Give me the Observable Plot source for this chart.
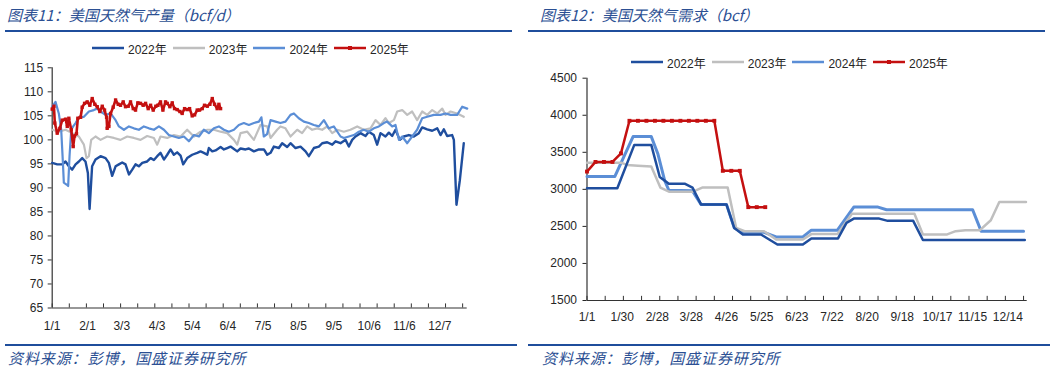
<!DOCTYPE html>
<html><head><meta charset="utf-8">
<script src="https://cdn.jsdelivr.net/npm/d3@7"></script>
<script src="https://cdn.jsdelivr.net/npm/@observablehq/plot@0.6"></script>
<style>
html,body{margin:0;padding:0;background:#fff;}
#root{position:relative;width:1055px;height:371px;background:#fff;overflow:hidden;font-family:"Liberation Sans","Noto Sans CJK SC",sans-serif;}
.title{position:absolute;font-family:"Noto Sans CJK SC",sans-serif;font-style:italic;font-size:15px;line-height:15px;color:#2B4F93;white-space:nowrap;}
.src{position:absolute;font-family:"Noto Sans CJK SC",sans-serif;font-style:italic;font-size:15px;line-height:15px;letter-spacing:0.9px;color:#2B4F93;white-space:nowrap;}
.rule{position:absolute;background:#1F4E9C;}
.legend{position:absolute;display:flex;align-items:center;height:14px;font-size:12px;color:#262626;white-space:nowrap;}
.legend .sw{display:inline-block;width:32px;height:10px;margin-right:4px;}
.legend .it{display:flex;align-items:center;margin-right:6px;}
.plot{position:absolute;}
</style></head>
<body><div id="root"></div>
<script>
// ---------- series colours / names ----------
const seriesNames = ["2022年","2023年","2024年","2025年"];
const seriesColors = ["#1F4E9E","#BFBFBF","#5B8ED6","#C41010"];

// ---------- Chart 11: US natural gas production (bcf/d), [day-of-year, value] ----------
const prod2022 = [[0,95.2],[4.4,94.9],[8.8,94.9],[11.7,95.5],[14.6,94.5],[17.5,93.8],[20.5,94.9],[23.4,95.5],[26.3,96.2],[29.2,95.5],[31.3,93.1],[32.8,85.6],[35,94.5],[38,95.9],[42.4,96.6],[46.8,96.2],[49.7,95.2],[52.6,92.5],[55.6,94.5],[58.5,94.9],[61.4,95.3],[64.3,94.9],[67.3,92.8],[70.2,93.8],[73.1,94.9],[76,94.5],[79,95.2],[83.3,95.5],[86.3,96.2],[89.2,95.8],[92.1,96.6],[95,97.3],[98,95.9],[100.9,96.9],[103.8,98],[106.7,96.9],[109.6,97.4],[112.6,96.7],[114.9,94.9],[118.4,96.2],[122.8,96.9],[127.2,97.3],[130.1,97.6],[133,97.3],[136,96.9],[137.4,98.3],[140.4,97.6],[143.3,97.8],[147.7,98.5],[150.6,98],[153.5,98.3],[156.4,98.6],[159.4,98.1],[162.3,97.6],[165.2,98.2],[169.6,98],[172.5,98.2],[176.9,97.6],[181.3,98],[185.7,98],[188.6,96.9],[191.5,97.3],[194.4,98.6],[198.8,98.3],[201.7,99.3],[206.1,98.5],[209,99.3],[213.4,98.3],[217.8,98.6],[222.2,97.6],[225.1,96.6],[229.5,98.3],[233.9,98.6],[236.8,99.3],[241.2,99.5],[245.6,99],[248.5,99.7],[252.9,99.3],[257.3,100],[260.2,98.6],[263.1,100],[266,100.7],[270.4,101.4],[274.8,100.8],[277.7,101.7],[282.1,101],[285,99],[288,101.4],[292.3,100.7],[295.3,101.5],[298.2,100.8],[301.1,102.1],[304.9,100],[308.4,100.7],[312.8,101],[317.2,100.7],[321.6,101.4],[324.5,102.6],[328.9,102.2],[333.3,101.9],[337.7,102.4],[340.6,101],[343.5,102.2],[346.4,100.8],[350.8,101],[352.3,100],[354.6,86.5],[357.5,91.5],[361,99.3]];
const prod2023 = [[0,102.1],[5.8,101.7],[11.7,102.1],[17.5,101.4],[23.4,100.7],[27.8,99],[30.1,96.2],[32.2,96.6],[34.2,100],[38,100.7],[42.4,100],[48.2,100.7],[54.1,100.4],[59.9,100],[65.8,100.7],[71.6,100.4],[77.5,100],[83.3,100.8],[89.2,100.4],[92.1,99],[95,100.7],[100.9,100.4],[106.7,101],[112.6,100.7],[118.4,102.1],[124.3,100.7],[130.1,101.7],[136,102.1],[141.8,102.1],[147.7,101.7],[153.5,101.4],[159.4,100],[162.3,99],[165.2,101.4],[171.1,101.7],[176.9,100],[182.7,103.1],[188.6,102.8],[191.5,100.4],[197.3,102.1],[200.2,102.8],[204.6,102.4],[209,100.7],[214.9,102.1],[219.2,101.4],[223.6,102.8],[228,102.1],[232.4,102.4],[236.8,102.1],[241.2,102.8],[245.6,101.4],[250,102.1],[255.8,101.7],[261.6,102.1],[267.5,102.8],[273.3,102.1],[279.2,102.4],[283.6,104.1],[288,103.1],[292.3,104.5],[295.3,103.5],[299.7,104.1],[302.6,105.9],[307,106.2],[311.4,105.2],[315.7,105.9],[320.1,104.1],[324.5,105.9],[328.9,105.2],[333.3,106.2],[337.7,105.5],[342.1,106.5],[345,105.2],[349.4,105.9],[355.2,105.5],[361,104.8]];
const prod2024 = [[0,106.9],[2.9,107.9],[5.8,105.5],[7.9,102.1],[9.4,95.2],[10.2,91.1],[12.6,90.7],[14,90.4],[15.2,96.6],[16.7,102.1],[18.4,102.8],[20.5,103.5],[23.4,104.7],[27.8,104.8],[32.2,105.9],[36.5,106.2],[39.5,106.5],[42.4,105.9],[46.8,105.2],[51.2,105.5],[55.6,104.1],[58.5,102.8],[62.9,102.1],[67.3,102.8],[71.6,102.4],[76,102.1],[80.4,102.8],[84.8,102.4],[89.2,102.1],[93.6,102.8],[98,102.1],[102.3,101],[106.7,100.7],[111.1,100.4],[115.5,100.7],[119.9,99.7],[124.3,101],[128.7,100.7],[133,102.1],[137.4,101.4],[141.8,102.4],[146.2,102.8],[150.6,102.1],[155,101.7],[159.4,102.1],[163.7,103.1],[168.1,103.5],[172.5,103.1],[176.9,103.5],[181.3,103.8],[183.5,104.7],[185.6,100.7],[188.5,101.2],[191.5,104.1],[195.9,103.8],[200.2,103.5],[204.6,103.8],[209,105.2],[212,105.5],[216.3,104.5],[220.7,103.8],[225.1,103.5],[229.5,103.1],[233.9,102.8],[238.3,104.1],[242.6,102.4],[247,102.8],[252.9,100.7],[255.8,100.4],[260.2,100.7],[264.6,101],[269,101.7],[273.3,102.1],[277.7,101.7],[282.1,102.4],[286.5,102.8],[290.9,103.5],[293.8,103.8],[298.2,102.8],[301.1,103.1],[304.1,100],[307,100.7],[311.4,99.3],[315.7,100.7],[320.1,102.1],[324.5,104.5],[328.9,104.8],[334.7,105.2],[340.6,105.2],[345,105.5],[349.4,105.2],[355.2,105.2],[359.6,106.9],[364,106.5]];
const prod2025 = [[0,106.4],[1.5,107],[2.3,103.5],[4.4,101.4],[6.7,102.4],[8.8,104.1],[11.7,104.3],[13.2,102.8],[14.6,104.5],[16.7,102.1],[18.4,98.6],[19.6,100.8],[21.3,101.3],[22.5,104.5],[24.9,104.7],[26.3,106.8],[28.4,107.6],[30.7,107.9],[33,107.2],[35.1,108.6],[37.4,107.4],[39.5,106.9],[41.8,105.9],[43.9,107],[45.9,106.2],[47.7,104.7],[48.2,102.4],[49.7,102.8],[51.2,105.5],[53.5,106.8],[55.6,108.3],[57.9,107.4],[59.9,107.2],[62.3,107.9],[64.3,106.9],[66.7,107],[68.7,107.9],[71.1,106.5],[73.1,106.2],[75.1,107.7],[77.5,107.6],[79.8,107.2],[81.9,107.6],[84.2,106.5],[86.3,107.2],[88.6,106.2],[90.9,107],[92.7,107.2],[95,107.9],[97.1,106.2],[99.4,107.9],[100.9,107.6],[103.2,106.9],[105.3,107.7],[107.3,106.5],[109.6,106.3],[112,105.9],[114,105.5],[116.1,106.5],[118.4,106.3],[120.5,106.5],[122.8,105],[124.9,105.2],[127.2,106.2],[129.2,106.2],[131.6,106.5],[133.6,107.2],[136,107],[138.3,107.4],[140.4,108.6],[142.4,107.4],[144.7,106.5],[146.2,107.4],[147.7,106.5]];
const prodYTicks = [65,70,75,80,85,90,95,100,105,110,115];
const prodXLabels = ["1/1","2/1","3/3","4/3","5/4","6/4","7/5","8/5","9/5","10/6","11/6","12/7"];
const prodXLabelDays = [0,31,61,92,123,154,185,216,247,278,309,340];
const prodXTickDays = d3.range(0, 361, 15);

// ---------- Chart 12: US natural gas demand (bcf), [day-of-year, value] ----------
const dem2022 = [[0,3015],[25,3015],[39,3600],[53,3600],[60,3166],[67.5,3077],[80.5,3077],[87,3024],[94,2797],[115,2797],[121.5,2478],[128.5,2390],[143.5,2390],[157,2256],[178,2256],[185,2338],[207,2338],[214,2547],[220,2605],[241,2605],[248,2575],[269,2575],[277,2316],[361,2316]];
const dem2023 = [[0,3360],[28,3360],[33,3330],[42,3320],[53,3308],[60.5,3024],[68,2966],[87,2966],[95,3024],[116,3024],[123,2478],[130,2434],[146,2434],[156,2323],[178,2323],[185,2396],[206.5,2396],[218.5,2672],[270,2672],[277,2392],[297,2392],[304,2436],[312,2449],[324,2449],[333,2583],[340,2828],[362,2828]];
const dem2024 = [[0,3175],[23,3175],[38,3712],[53,3712],[58.5,3476],[64,3121],[67.5,2988],[87,2980],[94,2797],[115,2797],[121.5,2478],[128.5,2420],[146,2420],[156,2358],[178,2358],[185,2449],[206.5,2449],[220,2761],[240,2761],[247,2725],[318,2725],[325,2436],[360,2436]];
const dem2025 = [[0,3240],[7,3370],[14,3370],[21,3370],[28,3485],[35,3925],[42,3925],[49,3925],[56,3925],[63,3925],[70,3925],[77,3925],[84,3925],[91,3925],[98,3925],[105,3925],[112,3250],[119,3250],[126,3250],[133,2760],[140,2760],[147,2760]];
const demYTicks = [1500,2000,2500,3000,3500,4000,4500];
const demXLabels = ["1/1","1/30","2/28","3/28","4/26","5/25","6/23","7/22","8/20","9/18","10/17","11/15","12/14"];
const demXLabelDays = [0,29,58,86,115,144,173,202,231,260,289,318,347];
const demXTickDays = d3.range(0, 361, 15);

const root = document.getElementById("root");
function el(tag, cls, style, html){const e=document.createElement(tag); if(cls) e.className=cls; if(style) e.setAttribute("style",style); if(html!=null) e.innerHTML=html; root.appendChild(e); return e;}

// titles, rules, sources
el("div","title","left:7px;top:7px;","图表11：美国天然气产量（bcf/d）");
el("div","rule","left:5px;top:30px;width:507px;height:2px;");
el("div","title","left:540px;top:7px;","图表12：美国天然气需求（bcf）");
el("div","rule","left:528px;top:30px;width:517px;height:2px;");
el("div","rule","left:5px;top:344px;width:512px;height:2px;");
el("div","rule","left:528px;top:344px;width:522px;height:2px;");
el("div","src","left:8px;top:350px;","资料来源：彭博，国盛证券研究所");
el("div","src","left:542px;top:350px;","资料来源：彭博，国盛证券研究所");

function legend(left, top, markerSize){
  const lg = el("div","legend",`left:${left}px;top:${top}px;`);
  seriesNames.forEach((n,i)=>{
    const mk = i===3 ? `<rect x="${16-markerSize/2}" y="${5-markerSize/2}" width="${markerSize}" height="${markerSize}" fill="${seriesColors[i]}"/>` : "";
    lg.insertAdjacentHTML("beforeend", `<span class="it"><svg class="sw" width="32" height="10"><line x1="0" x2="32" y1="5" y2="5" stroke="${seriesColors[i]}" stroke-width="2.5"/>${mk}</svg><span>${n}</span></span>`);
  });
}
legend(92, 41, 4);
legend(631, 55, 4);

const xy = {x: d=>d[0], y: d=>d[1]};
const axisColor = "#333";
const fontStyle = {fontFamily:'"Liberation Sans","Noto Sans CJK SC",sans-serif', fontSize:"12px", color:"#262626", background:"transparent", overflow:"visible"};

// left plot
const p1 = Plot.plot({
  width: 527, height: 280,
  marginTop: 12.3, marginBottom: 27.5, marginLeft: 51.7, marginRight: 60.3,
  x: {domain: [0, 364]},
  y: {domain: [65, 115]},
  style: fontStyle,
  marks: [
    Plot.axisY({ticks: prodYTicks, tickSize: 4, tickPadding: 5, stroke: axisColor, tickFormat: d=>String(d)}),
    Plot.axisX({ticks: prodXLabelDays, tickSize: 0, tickPadding: 13, tickFormat: d=>prodXLabels[prodXLabelDays.indexOf(d)]}),
    Plot.ruleX(prodXTickDays, {x: d=>d, y1: 65, y2: 65.85, stroke: axisColor}),
    Plot.ruleY([65], {stroke: axisColor, strokeWidth: 1.2}),
    Plot.ruleX([0], {stroke: axisColor, strokeWidth: 1.2}),
    Plot.line(prod2022, {...xy, stroke: seriesColors[0], strokeWidth: 2.4}),
    Plot.line(prod2023, {...xy, stroke: seriesColors[1], strokeWidth: 2.2}),
    Plot.line(prod2024, {...xy, stroke: seriesColors[2], strokeWidth: 2.2}),
    Plot.line(prod2025, {...xy, stroke: seriesColors[3], strokeWidth: 2.6}),
    Plot.dot(prod2025, {...xy, symbol: "square", r: 1.9, fill: seriesColors[3]})
  ]
});
p1.classList.add("plot"); p1.style.left="0px"; p1.style.top="55px";
root.appendChild(p1);

// right plot
const p2 = Plot.plot({
  width: 528, height: 265,
  marginTop: 12.7, marginBottom: 30, marginLeft: 59.5, marginRight: 28.3,
  x: {domain: [0, 363]},
  y: {domain: [1500, 4500]},
  style: fontStyle,
  marks: [
    Plot.axisY({ticks: demYTicks, tickSize: 4, tickPadding: 6, tickFormat: d=>String(d)}),
    Plot.axisX({ticks: demXLabelDays, tickSize: 0, tickPadding: 12, tickFormat: d=>demXLabels[demXLabelDays.indexOf(d)]}),
    Plot.ruleX(demXTickDays, {x: d=>d, y1: 1500, y2: 1556, stroke: axisColor}),
    Plot.ruleY([1500], {stroke: axisColor, strokeWidth: 1.2}),
    Plot.ruleX([0], {stroke: axisColor, strokeWidth: 1.2}),
    Plot.line(dem2024, {...xy, stroke: seriesColors[2], strokeWidth: 3}),
    Plot.line(dem2023, {...xy, stroke: seriesColors[1], strokeWidth: 2.5}),
    Plot.line(dem2022, {...xy, stroke: seriesColors[0], strokeWidth: 2.5}),
    Plot.line(dem2025, {...xy, stroke: seriesColors[3], strokeWidth: 2.5}),
    Plot.dot(dem2025, {...xy, symbol: "square", r: 2.2, fill: seriesColors[3]})
  ]
});
p2.classList.add("plot"); p2.style.left="527px"; p2.style.top="65px";
root.appendChild(p2);
</script></body></html>
